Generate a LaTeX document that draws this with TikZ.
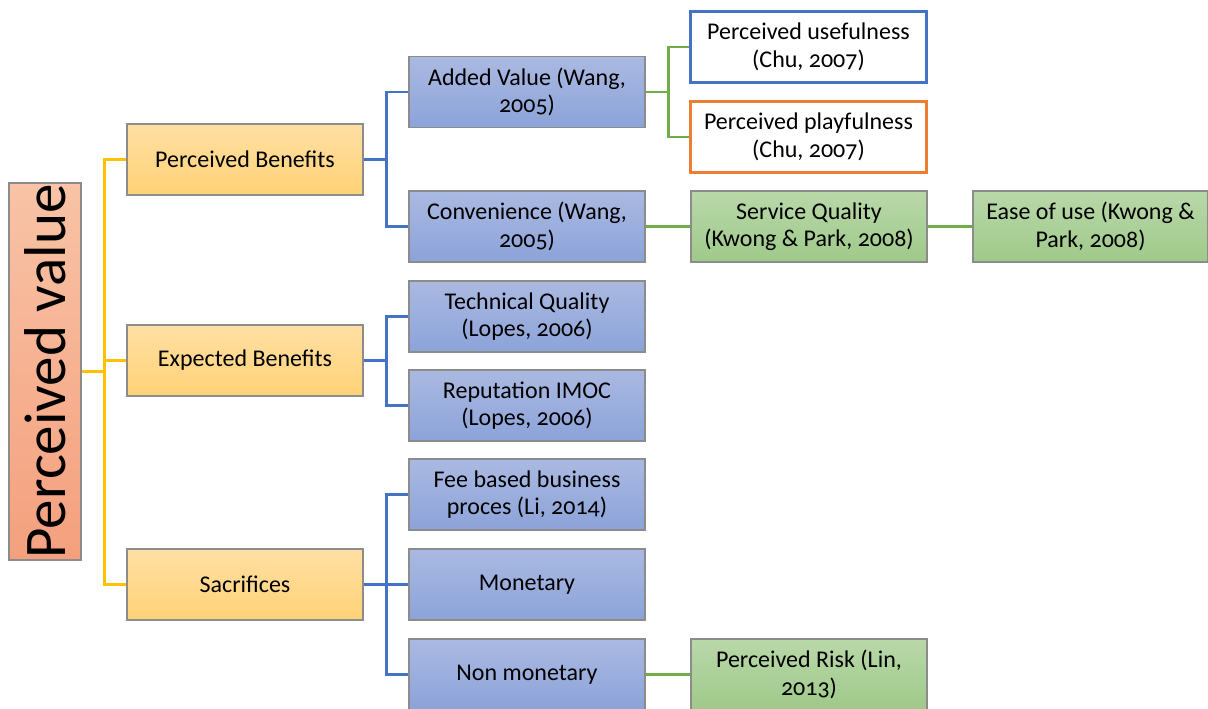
\documentclass[tikz,border=0pt]{standalone}
\usepackage{fontspec}
\setmainfont{Carlito}[Numbers=OldStyle]
\usetikzlibrary{calc}
\definecolor{ylin}{HTML}{FFC000}
\definecolor{blin}{HTML}{4472C4}
\definecolor{glin}{HTML}{70AD47}
\definecolor{olin}{HTML}{ED7D31}
\definecolor{bord}{HTML}{8C8C8C}
\definecolor{ytop}{HTML}{FFDFA3}
\definecolor{ybot}{HTML}{FFD276}
\definecolor{btop}{HTML}{AAB9E1}
\definecolor{bbot}{HTML}{8CA3D9}
\definecolor{gtop}{HTML}{B9D8A9}
\definecolor{gbot}{HTML}{9FC98A}
\definecolor{rtop}{HTML}{F8C3A6}
\definecolor{rbot}{HTML}{F4A07D}
\tikzset{
  x=1pt,y=-1pt,
  box/.style={draw=bord,line width=1.3pt,minimum width=236pt,minimum height=71pt,
    align=center,inner sep=1pt,font=\fontsize{24}{27.5}\selectfont,text=black},
  ybox/.style={box,top color=ytop,bottom color=ybot},
  bbox/.style={box,top color=btop,bottom color=bbot},
  gbox/.style={box,top color=gtop,bottom color=gbot},
  wbox/.style={box,fill=white,line width=2.6pt},
  yline/.style={draw=ylin,line width=2.5pt},
  bline/.style={draw=blin,line width=2.5pt},
  gline/.style={draw=glin,line width=2.5pt},
}
\begin{document}
\begin{tikzpicture}
\useasboundingbox (0,0) rectangle (1208,709);
% root
\node[draw=bord,line width=1.3pt,rotate=90,minimum width=377pt,minimum height=72pt,
  top color=rtop,bottom color=rbot,inner sep=0pt,
  font=\fontsize{59}{62}\selectfont] (root) at (45,371.5) {Perceived value};
% level 1
\node[ybox] (pb) at (245,159.5) {Perceived Benefits};
\node[ybox] (eb) at (245,360.5) {Expected Benefits};
\node[ybox] (sc) at (245,584.5) {Sacrifices};
% level 2
\node[bbox] (av) at (527,92) {Added Value (Wang,\\2005)};
\node[bbox] (cv) at (527,226.5) {Convenience (Wang,\\2005)};
\node[bbox] (tq) at (527,316.5) {Technical Quality\\(Lopes, 2006)};
\node[bbox] (ri) at (527,405.5) {Reputation IMOC\\(Lopes, 2006)};
\node[bbox] (fb) at (527,494.5) {Fee based business\\proces (Li, 2014)};
\node[bbox] (mo) at (527,584.5) {Monetary};
\node[bbox] (nm) at (527,674.5) {Non monetary};
% level 3
\node[wbox,draw=blin] (pu) at (808.5,47) {Perceived usefulness\\(Chu, 2007)};
\node[wbox,draw=olin] (pp) at (808.5,137) {Perceived playfulness\\(Chu, 2007)};
\node[gbox] (sq) at (809,226.5) {Service Quality\\(Kwong \& Park, 2008)};
\node[gbox] (pr) at (809,674.5) {Perceived Risk (Lin,\\2013)};
\node[gbox,minimum width=235pt] (eu) at (1090.5,226.5) {Ease of use (Kwong \&\\Park, 2008)};
% yellow connectors
\draw[yline] (root.south) -- ++(23,0) coordinate (yj);
\draw[yline] (yj) |- (pb.west);
\draw[yline] (yj) |- (eb.west);
\draw[yline] (yj) |- (sc.west);
% blue connectors
\draw[bline] (pb.east) -- ++(23,0) coordinate (j1);
\draw[bline] (j1) |- (av.west);
\draw[bline] (j1) |- (cv.west);
\draw[bline] (eb.east) -- ++(23,0) coordinate (j2);
\draw[bline] (j2) |- (tq.west);
\draw[bline] (j2) |- (ri.west);
\draw[bline] (sc.east) -- ++(23,0) coordinate (j3);
\draw[bline] (j3) |- (fb.west);
\draw[bline] (j3) |- (mo.west);
\draw[bline] (j3) |- (nm.west);
% green connectors
\draw[gline] (av.east) -- ++(23,0) coordinate (j4);
\draw[gline] (j4) |- (pu.west);
\draw[gline] (j4) |- (pp.west);
\draw[gline] (cv.east) -- (sq.west);
\draw[gline] (sq.east) -- (eu.west);
\draw[gline] (nm.east) -- (pr.west);
\end{tikzpicture}
\end{document}
